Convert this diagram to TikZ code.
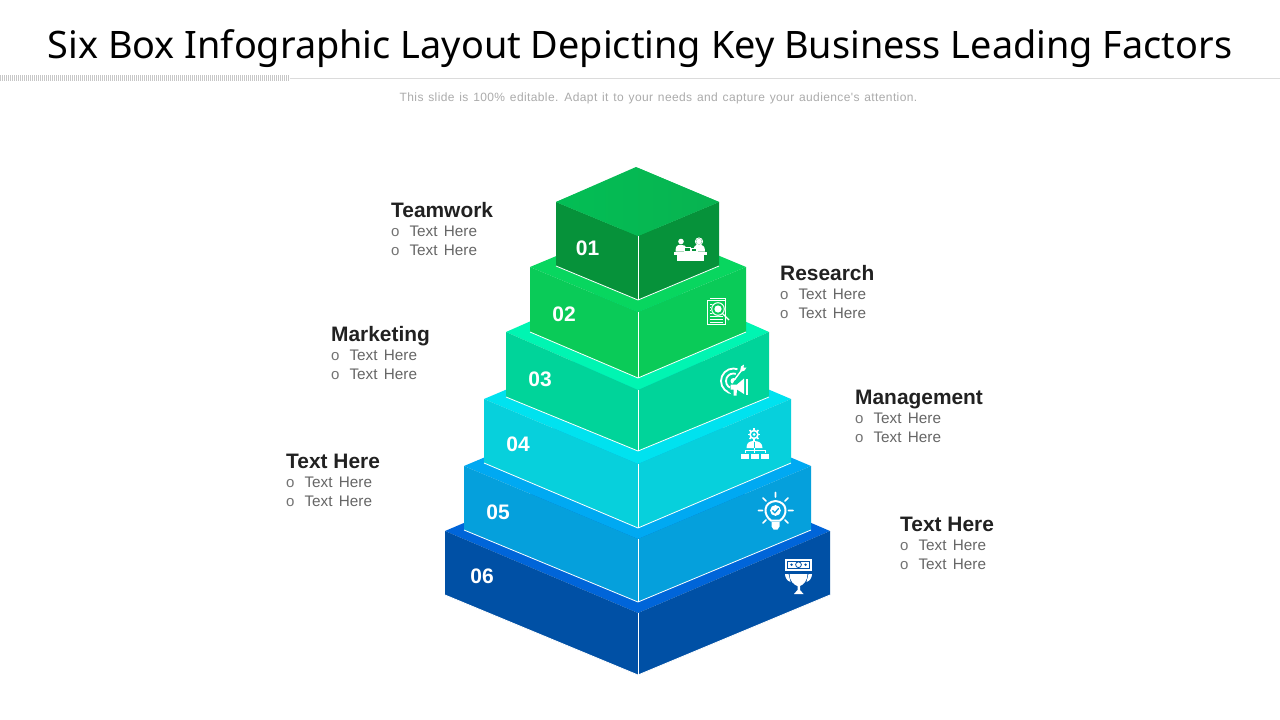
\documentclass[tikz,border=0pt]{standalone}
\usepackage{fontspec}
\setmainfont{Liberation Sans}
\newfontfamily\titlefont{Noto Sans}
\newfontfamily\bodyfont[WordSpace=1.5]{Liberation Sans}
\newfontfamily\subfont[LetterSpace=3.2,WordSpace=1.3]{Liberation Sans}
\definecolor{topA}{HTML}{05C552}\definecolor{faceA}{HTML}{06923A}
\definecolor{topB}{HTML}{08D65F}\definecolor{faceB}{HTML}{0ACB58}
\definecolor{topC}{HTML}{00F5B2}\definecolor{faceC}{HTML}{00D49A}
\definecolor{topD}{HTML}{00E2EF}\definecolor{faceD}{HTML}{07D0DC}
\definecolor{topE}{HTML}{00A9F2}\definecolor{faceE}{HTML}{05A0DC}
\definecolor{topF}{HTML}{0065D9}\definecolor{faceF}{HTML}{0050A5}
\definecolor{shadeL}{HTML}{03BE55}\definecolor{shadeM}{HTML}{00CE58}\definecolor{shadeR}{HTML}{08B350}
\tikzset{
  edge/.style={draw=white,line width=0.8pt,line join=round},
  num/.style={font=\fontsize{21}{21}\selectfont\bfseries,text=white,anchor=center,inner sep=0pt},
  head/.style={font=\fontsize{20.9}{20.9}\selectfont\bfseries,text=black!87,anchor=base west,inner sep=0pt},
  item/.style={font=\bodyfont\fontsize{15.3}{15.3}\selectfont,text=black!60,anchor=base west,inner sep=0pt},
  bul/.style={font=\fontsize{15}{15}\selectfont,text=black!55,anchor=base west,inner sep=0pt},
}
% name, left x, right x, side y, front-top y, bottom side y, front-bottom y
\newcommand{\tier}[7]{%
  \fill[top#1] (#2,#4) -- (638,{2*#4-#5}) -- (#3,#4) -- (638,#5) -- cycle;
  \fill[face#1] (#2,#4) -- (638,#5) -- (#3,#4) -- (#3,#6) -- (638,#7) -- (#2,#6) -- cycle;
  \draw[edge] (638,#5) -- (638,#7);
  \draw[edge] (#2,#6) -- (638,#7) -- (#3,#6);
}
\newcommand{\block}[5]{%
  \node[head] (#1h) at (#2,#3) {#4};
  \node[bul] (#1a) at (#2,#3+19.5) {o};
  \node[item] (#1b) at (#2+18.3,#3+19.4) {#5};
  \node[bul] (#1c) at (#2,#3+38.5) {o};
  \node[item] (#1d) at (#2+18.3,#3+38.4) {#5};
}
\begin{document}
\begin{tikzpicture}[x=1pt,y=-1pt]
\useasboundingbox (0,0) rectangle (1280,720);
\fill[white] (0,0) rectangle (1280,720);
% header
\node[font=\titlefont\fontsize{37.85}{38}\selectfont,text=black,anchor=base,inner sep=0pt] (title) at (640,58) {Six Box Infographic Layout Depicting Key Business Leading Factors};
\draw[black!14,line width=1pt] (290,78.5) -- (1280,78.5);
\draw[black!22,line width=6pt,dash pattern=on 1pt off 1pt] (0,78) -- (290,78);
\node[font=\subfont\fontsize{12}{12}\selectfont,text=black!33,anchor=base,inner sep=0pt] (sub) at (658.5,101) {This slide is 100\% editable. Adapt it to your needs and capture your audience's attention.};
% tiers, bottom first
\tier{F}{445}{830}{531}{613}{595}{675}
\tier{E}{464}{811}{466}{539}{530}{602}
\tier{D}{484}{791}{399}{464}{463}{528}
\tier{C}{506}{769}{332}{390}{397}{451}
\tier{B}{530}{746}{267}{312}{332}{378}
\tier{A}{556}{719}{202}{236}{266}{300}
\shade[left color=shadeL,middle color=shadeM,right color=shadeR,draw=none]
  (556,202) -- (636,167) -- (719,202) -- (638,236) -- cycle;
\draw[edge] (638,236) -- (638,300);
% numbers
\node[num] (n1) at (587.5,248) {01};
\node[num] (n2) at (564,314) {02};
\node[num] (n3) at (540,379) {03};
\node[num] (n4) at (518,444) {04};
\node[num] (n5) at (498,512) {05};
\node[num] (n6) at (482,576) {06};
% labels
\block{t}{391}{217}{Teamwork}{Text Here}
\block{r}{780}{280}{Research}{Text Here}
\block{m}{331}{341}{Marketing}{Text Here}
\block{g}{855}{404}{Management}{Text Here}
\block{l}{286}{468}{Text Here}{Text Here}
\block{h}{900}{531}{Text Here}{Text Here}
% icon 1: two people at a desk
\begin{scope}
\fill[white] (674,252) rectangle (707,254.5);
\fill[white] (677,254.5) rectangle (704,260.5);
\fill[white] (681,241.5) circle (2.8);
\fill[white] (699,241.5) circle (2.8);
\draw[white,line width=0.9pt] (699,241.5) circle (3.6);
\fill[white] (675.5,251.5) .. controls (675.5,246) and (677,244.8) .. (681,244.8) .. controls (684,244.8) and (686,246) .. (686.5,248) -- (686.5,251.5) -- cycle;
\fill[white] (693.5,251.5) .. controls (693.5,246) and (695,244.8) .. (699,244.8) .. controls (703,244.8) and (705,246) .. (705,251.5) -- cycle;
\draw[white,line width=0.9pt] (684,247) rectangle (690.5,251.5);
\draw[white,line width=0.9pt] (691.5,248) rectangle (697,251.5);
\fill[faceA] (685,248) rectangle (689.5,250.5);
\fill[faceA] (692.5,249) rectangle (696,250.5);
\end{scope}
% icon 2: document and magnifier
\begin{scope}
\draw[white,line width=0.9pt] (707.5,300) rectangle (725,324);
\draw[white,line width=0.7pt] (710,298) -- (725.5,298) -- (725.5,303);
\foreach \yy in {304,307,310,313} \draw[white,line width=0.7pt] (710,\yy) -- (714,\yy);
\foreach \yy in {316,319,322} \draw[white,line width=0.7pt] (710,\yy) -- (723,\yy);
\fill[faceB] (718,309) circle (7.2);
\draw[white,line width=1pt] (718,309) circle (6.3);
\fill[white] (718,309) circle (3.6);
\draw[white,line width=1.1pt] (722.8,313.8) -- (729,320);
\end{scope}
% icon 3: target, arrow, megaphone
\begin{scope}
\draw[white,line width=1.8pt] (733.5,381) circle (12.5);
\draw[white,line width=1.8pt] (733.5,381) circle (7.5);
\fill[faceC] (733.5,381) -- (740,362) -- (752,362) -- (752,381) -- cycle;
\fill[white] (733.5,381) circle (3);
\draw[white,line width=1.4pt] (733.5,381) -- (741,371);
\fill[white] (740,372) -- (741,366.5) -- (744,364.5) -- (743.5,367.5) -- (746.5,367.5) -- (744.5,370.5) -- cycle;
\fill[faceC] (728,391) -- (735,380) -- (750,376) -- (750,397) -- (735,397) -- cycle;
\fill[white] (730.5,384.5) -- (737,384.5) -- (744,378.5) -- (744,394) -- (737,389.5) -- (736.5,395.5) -- (733.5,395.5) -- (733.5,389.5) -- (730.5,389.5) -- cycle;
\fill[white] (745.5,378.5) rectangle (747.5,394.5);
\end{scope}
% icon 4: gear, person, org chart
\begin{scope}
\foreach \a in {0,45,...,315} \draw[white,line width=1.6pt] (754,434.5) -- ++(\a:6.2);
\fill[white] (754,434.5) circle (4.8);
\fill[faceD] (754,434.5) circle (3);
\fill[white] (754,434.5) circle (1.5);
\fill[white] (746.5,448) .. controls (746.5,443) and (749,441) .. (754,441) .. controls (759,441) and (762.5,443) .. (762.5,448) -- cycle;
\draw[faceD,line width=0.6pt] (754,441.5) -- (754,448);
\draw[white,line width=0.9pt] (754,448) -- (754,453) (745,453) -- (745,450.5) -- (765,450.5) -- (765,453);
\fill[white] (741,453.5) rectangle (749,458.5);
\fill[white] (751,453.5) rectangle (759,458.5);
\fill[white] (761,453.5) rectangle (768.5,458.5);
\end{scope}
% icon 5: bulb
\begin{scope}
\draw[white,line width=2pt,line join=round] (771,520.5) .. controls (763,515) and (763,502) .. (775.5,501) .. controls (788,502) and (788,515) .. (780,520.5) -- cycle;
\fill[white] (771.5,522) -- (779.5,522) -- (779.5,526.5) -- (777.5,529.5) -- (773.5,529.5) -- (771.5,526.5) -- cycle;
\fill[white] (775.5,510.5) circle (5.4);
\draw[faceE,line width=1.3pt,line cap=round,line join=round] (772.7,510.6) -- (774.8,512.8) -- (778.5,508.6);
\draw[white,line width=1.7pt,line cap=round]
  (775.5,492.5) -- (775.5,497) (758.5,510.5) -- (762.5,510.5) (788.5,510.5) -- (793,510.5)
  (763,498) -- (766,501) (788,498) -- (785,501)
  (763,523) -- (766,520) (788,523) -- (785,520);
\end{scope}
% icon 6: banknote and trophy
\begin{scope}
\fill[white] (785,558.5) rectangle (812,571);
\draw[faceF,line width=0.9pt] (787.5,561) rectangle (809.5,568.5);
\draw[faceF,line width=0.8pt] (798.5,564.7) circle (2.9);
\fill[faceF] (791.5,564.7) circle (1.3);
\fill[faceF] (805.5,564.7) circle (1.3);
\fill[white] (789.5,574) -- (807.5,574) .. controls (807.5,581) and (803,585) .. (800,586) -- (800,590) -- (803.5,594) -- (794,594) -- (797.5,590) -- (797.5,586) .. controls (794,585) and (789.5,581) .. (789.5,574) -- cycle;
\fill[white] (785,574) -- (788.5,574) -- (790.5,582) .. controls (787.5,581) and (785,578) .. (785,574) -- cycle;
\fill[white] (812,574) -- (808.5,574) -- (806.5,582) .. controls (809.5,581) and (812,578) .. (812,574) -- cycle;
\end{scope}
\end{tikzpicture}
\end{document}
